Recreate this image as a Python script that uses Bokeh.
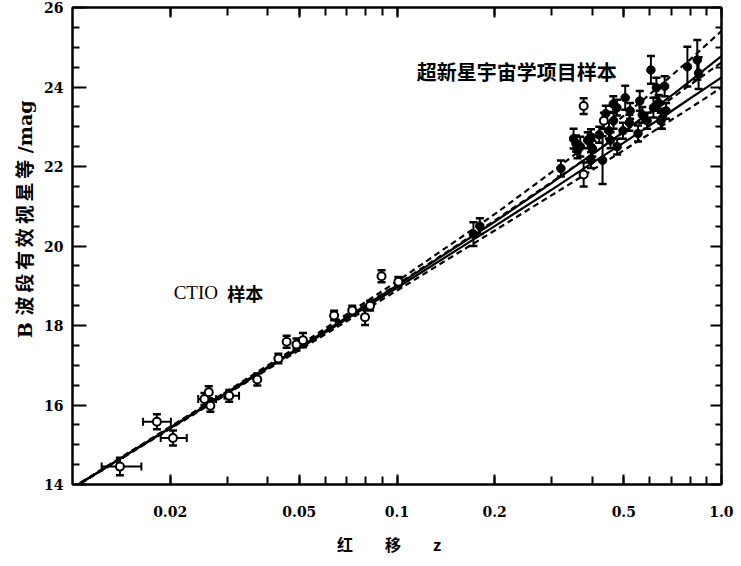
from bokeh.plotting import figure
from bokeh.models import (ColumnDataSource, Whisker, TeeHead, FixedTicker, LogAxis,
                          LinearAxis, Label, CustomJSTickFormatter, Title)
from bokeh.embed import file_html
from bokeh.resources import INLINE

# ---------------- data ----------------
# Calan/Tololo (CTIO) low-redshift sample (open circles)
z_lo = [0.0140, 0.0182, 0.0204, 0.0255, 0.0263, 0.0266, 0.0304, 0.0371, 0.0431,
        0.0457, 0.0490, 0.0513, 0.0640, 0.0728, 0.0797, 0.0826, 0.0896, 0.101]
m_lo = [14.45, 15.58, 15.17, 16.15, 16.32, 15.98, 16.23, 16.64, 17.17,
        17.59, 17.52, 17.63, 18.25, 18.38, 18.21, 18.50, 19.24, 19.10]
e_lo = [0.22, 0.19, 0.19, 0.15, 0.15, 0.15, 0.15, 0.15, 0.12,
        0.15, 0.15, 0.18, 0.12, 0.12, 0.20, 0.12, 0.15, 0.12]
# horizontal (redshift) error bars of some low-z points
zh = [0.0140, 0.0182, 0.0204, 0.0255, 0.0304]
mh = [14.45, 15.58, 15.17, 16.15, 16.23]
zh_lo = [0.0123, 0.0165, 0.0187, 0.0244, 0.0294]
zh_hi = [0.0163, 0.0201, 0.0225, 0.0277, 0.0326]

# Supernova Cosmology Project high-redshift sample (filled circles)
z_hi = [0.172, 0.180, 0.320, 0.350, 0.356, 0.360, 0.367, 0.387, 0.396, 0.396,
        0.400, 0.420, 0.430, 0.440, 0.450, 0.455, 0.465, 0.464, 0.476, 0.477,
        0.497, 0.505, 0.520, 0.523, 0.553, 0.560, 0.570, 0.590, 0.606, 0.617,
        0.630, 0.640, 0.650, 0.655, 0.668, 0.675, 0.785, 0.842, 0.850]
m_hi = [20.30, 20.50, 21.95, 22.70, 22.58, 22.41, 22.50, 22.66, 22.16, 22.74,
        22.45, 22.80, 22.16, 23.33, 22.90, 22.66, 23.15, 23.57, 23.48, 22.50,
        22.90, 23.73, 23.10, 23.40, 22.83, 23.65, 23.30, 23.15, 24.43, 23.48,
        23.98, 23.60, 23.15, 23.20, 24.02, 23.40, 24.51, 24.68, 24.35]
e_hi = [0.30, 0.20, 0.20, 0.25, 0.20, 0.20, 0.25, 0.20, 0.20, 0.20,
        0.20, 0.20, 0.60, 0.20, 0.20, 0.20, 0.20, 0.20, 0.20, 0.20,
        0.20, 0.30, 0.20, 0.20, 0.20, 0.25, 0.20, 0.20, 0.35, 0.25,
        0.25, 0.20, 0.20, 0.25, 0.25, 0.20, 0.50, 0.50, 0.40]
# a few SCP points drawn as open circles
z_op = [0.376, 0.376, 0.434]
m_op = [23.52, 21.80, 23.15]
e_op = [0.20, 0.30, 0.20]

# model curves
z_model = [0.01, 0.03, 0.05, 0.1, 0.2, 0.3, 0.4, 0.5, 0.6, 0.7, 0.8, 0.9, 1.0]
m_a = [13.92, 16.35, 17.50, 19.11, 20.80, 21.86, 22.64, 23.28, 23.81, 24.28, 24.69, 25.07, 25.41]
m_b = [13.91, 16.32, 17.45, 19.01, 20.61, 21.59, 22.31, 22.88, 23.36, 23.78, 24.15, 24.48, 24.78]
m_c = [13.91, 16.33, 17.46, 19.03, 20.64, 21.61, 22.31, 22.87, 23.32, 23.71, 24.05, 24.35, 24.62]
m_d = [13.91, 16.30, 17.42, 18.95, 20.50, 21.42, 22.09, 22.60, 23.03, 23.39, 23.71, 23.99, 24.24]
m_e = [13.90, 16.28, 17.38, 18.88, 20.39, 21.28, 21.91, 22.41, 22.82, 23.17, 23.47, 23.74, 23.99]
model_curves = [m_a, m_b, m_c, m_d, m_e]
model_dash = ["6 4", "solid", "6 4", "solid", "6 4"]

# ticks
x_major = [0.02, 0.05, 0.1, 0.2, 0.5, 1.0]
x_tick_labels = ["0.02", "0.05", "0.1", "0.2", "0.5", "1.0"]
x_minor = [0.02, 0.03, 0.04, 0.05, 0.06, 0.07, 0.08, 0.09,
           0.1, 0.2, 0.3, 0.4, 0.5, 0.6, 0.7, 0.8, 0.9]
y_major = [14, 16, 18, 20, 22, 24, 26]
y_minor = [14.5, 15, 15.5, 16.5, 17, 17.5, 18.5, 19, 19.5, 20.5, 21, 21.5,
           22.5, 23, 23.5, 24.5, 25, 25.5]

SERIF = "DejaVu Serif"
CJK = "Noto Sans CJK SC"
TS = "\u2009"  # thin space between characters of the vertical title

# ---------------- figure ----------------
p = figure(width=733, height=558, x_axis_type="log", x_range=(0.01, 1.0), y_range=(14, 26),
           output_backend="svg", toolbar_location=None,
           min_border_left=72, min_border_right=12, min_border_top=7, min_border_bottom=68)
p.grid.visible = False
p.outline_line_color = "black"
p.outline_line_width = 2
p.background_fill_color = "white"
p.border_fill_color = "white"

xt = FixedTicker(ticks=x_major, minor_ticks=x_minor)
yt = FixedTicker(ticks=y_major, minor_ticks=y_minor)

def style_axis(ax, tin, minin):
    ax.axis_line_color = "black"
    ax.axis_line_width = 2
    ax.major_tick_in = tin
    ax.major_tick_out = 0
    ax.minor_tick_in = minin
    ax.minor_tick_out = 0
    ax.major_tick_line_width = 2
    ax.minor_tick_line_width = 2
    ax.major_label_text_font = SERIF
    ax.major_label_text_font_style = "bold"
    ax.major_label_text_font_size = "14px"
    ax.major_label_text_color = "black"

xa = p.xaxis[0]
xa.ticker = xt
xa.major_label_overrides = dict(zip(x_major, x_tick_labels))
style_axis(xa, 10, 8)
xa.major_label_standoff = 21
xa.axis_label = "红　　移　　z　"
xa.axis_label_text_font = CJK
xa.axis_label_text_font_style = "bold"
xa.axis_label_text_font_size = "16px"
xa.axis_label_text_color = "black"
xa.axis_label_standoff = 12

ya = p.yaxis[0]
ya.ticker = yt
style_axis(ya, 14, 7)
ya.major_label_standoff = 9
ya.major_label_orientation = "horizontal"

ylabel = "B " + TS.join("波段有效视星等") + " /mag"
p.add_layout(Title(text=ylabel, align="right", offset=93,
                   text_font=SERIF + ", " + CJK, text_font_style="bold",
                   text_font_size="19px", text_color="black", standoff=12), "left")

blank = CustomJSTickFormatter(code="return ''")
top = LogAxis(ticker=FixedTicker(ticks=x_major, minor_ticks=x_minor), formatter=blank)
style_axis(top, 10, 8)
top.major_label_standoff = 0
p.add_layout(top, "above")
right = LinearAxis(ticker=FixedTicker(ticks=y_major, minor_ticks=y_minor), formatter=blank)
style_axis(right, 11, 6)
right.major_label_standoff = 0
p.add_layout(right, "right")

# model curves
for mm, dash in zip(model_curves, model_dash):
    p.line(z_model, mm, line_color="black", line_width=2.2, line_dash=dash)

# error bars
def vbars(zs, ms, es):
    src = ColumnDataSource(dict(z=zs, lo=[m - e for m, e in zip(ms, es)],
                                up=[m + e for m, e in zip(ms, es)]))
    w = Whisker(source=src, base="z", lower="lo", upper="up", dimension="height",
                line_color="black", line_width=2,
                upper_head=TeeHead(size=8, line_width=2.5, line_color="black"),
                lower_head=TeeHead(size=8, line_width=2.5, line_color="black"))
    p.add_layout(w)

vbars(z_hi, m_hi, e_hi)
vbars(z_op, m_op, e_op)
vbars(z_lo, m_lo, e_lo)
hsrc = ColumnDataSource(dict(m=mh, lo=zh_lo, up=zh_hi))
p.add_layout(Whisker(source=hsrc, base="m", lower="lo", upper="up", dimension="width",
                     line_color="black", line_width=2,
                     upper_head=TeeHead(size=8, line_width=2, line_color="black"),
                     lower_head=TeeHead(size=8, line_width=2, line_color="black")))

# points
p.scatter(z_hi, m_hi, marker="circle", size=8.5, fill_color="black", line_color="black")
p.scatter(z_op, m_op, marker="circle", size=8, fill_color="white", line_color="black", line_width=2)
p.scatter(z_lo, m_lo, marker="circle", size=8, fill_color="white", line_color="black", line_width=2)

# texts
p.add_layout(Label(x=0.115, y=24.39, text="超新星宇宙学项目样本", text_font=CJK,
                   text_font_style="bold", text_font_size="20px", text_color="black",
                   text_align="left", text_baseline="middle"))
p.add_layout(Label(x=0.0205, y=18.82, text="CTIO", text_font="Liberation Serif",
                   text_font_size="19px", text_color="black",
                   text_align="left", text_baseline="middle"))
p.add_layout(Label(x=0.0300, y=18.82, text="样本", text_font=CJK,
                   text_font_style="bold", text_font_size="18px", text_color="black",
                   text_align="left", text_baseline="middle"))

open("out.html", "w").write(file_html(p, INLINE))
